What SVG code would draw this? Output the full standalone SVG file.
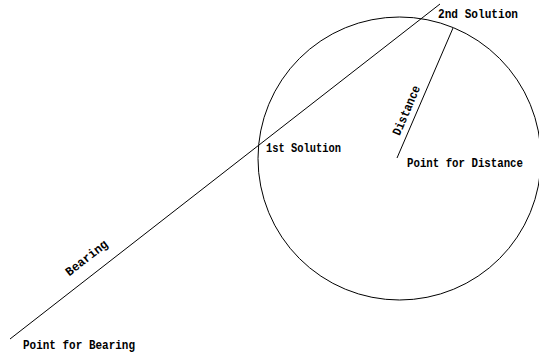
<svg xmlns="http://www.w3.org/2000/svg" width="539" height="354" viewBox="0 0 539 354">
<style>
.ln{stroke:#000;stroke-width:1;fill:none}
.t{font-family:"Liberation Mono","DejaVu Sans Mono",monospace;font-size:12.5px;font-weight:bold;fill:#000}
</style>
<rect width="539" height="354" fill="#fff"/>
<g id="circle"><circle class="ln" cx="399.5" cy="158.5" r="141.5"/></g>
<g id="connectors">
<line class="ln" x1="10" y1="339" x2="440" y2="4"/>
<line class="ln" x1="397" y1="158" x2="453" y2="28"/>
</g>
<g id="labels">
<text class="t" x="438" y="18" textLength="80" lengthAdjust="spacingAndGlyphs">2nd Solution</text>
<text class="t" x="266" y="151.5" textLength="75" lengthAdjust="spacingAndGlyphs">1st Solution</text>
<text class="t" x="407" y="166.5" textLength="116" lengthAdjust="spacingAndGlyphs">Point for Distance</text>
<text class="t" x="23" y="349" textLength="112" lengthAdjust="spacingAndGlyphs">Point for Bearing</text>
<text class="t" transform="translate(89,261) rotate(-38)" text-anchor="middle" x="0" y="0" textLength="50" lengthAdjust="spacingAndGlyphs">Bearing</text>
<text class="t" transform="translate(410,112) rotate(-66.7)" text-anchor="middle" x="0" y="0" textLength="53" lengthAdjust="spacingAndGlyphs">Distance</text>
</g>
</svg>
